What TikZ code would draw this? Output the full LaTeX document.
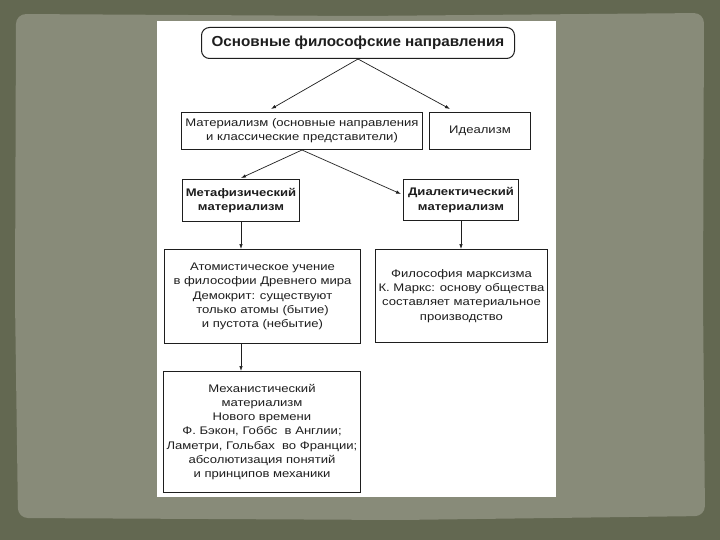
\documentclass[tikz,border=0pt]{standalone}
\usepackage{fontspec}
\setmainfont{Liberation Sans}
\newfontfamily\widefont{Liberation Sans}[FakeStretch=1.19]
\newfontfamily\titlefont{Liberation Sans}[FakeStretch=1.05]
\usetikzlibrary{arrows.meta,calc}
\definecolor{outerbg}{HTML}{636851}
\definecolor{innerbg}{HTML}{888B79}
\definecolor{ink}{HTML}{1E1E1E}
\tikzset{
  box/.style={draw=ink, line width=1pt, fill=white, text=ink, align=center, inner sep=2pt,
    font=\widefont\fontsize{11}{14.2}\selectfont, anchor=north west},
  bbox/.style={box, font=\widefont\fontsize{11}{14.2}\selectfont\bfseries},
  arr/.style={draw=ink, line width=0.7pt, -{Latex[length=5pt,width=3.5pt]}},
}
\begin{document}
\begin{tikzpicture}[x=1pt,y=-1pt]
\useasboundingbox (0,0) rectangle (720,540);
\fill[outerbg] (0,0) rectangle (720,540);
\fill[innerbg, rounded corners=10pt] (16,14) -- (360,16) -- (704,13) -- (703,300) -- (705,516) -- (400,520) -- (18,518) -- (15,300) -- cycle;
\fill[white] (157,21) rectangle (556,497);

\node[box, rounded corners=8pt, minimum width=313pt, minimum height=31pt,
  font=\titlefont\fontsize{14.5}{16}\selectfont\bfseries] (title) at (201,27) {Основные философские направления};
\node[box, minimum width=241pt, minimum height=37pt] (mat) at (181,112)
  {Материализм (основные направления\\и классические представители)};
\node[box, minimum width=101pt, minimum height=37pt] (ideal) at (429,112) {Идеализм};
\node[bbox, minimum width=117pt, minimum height=42pt] (meta) at (182,179)
  {Метафизический\\материализм};
\node[bbox, minimum width=115pt, minimum height=41pt] (dial) at (403,179)
  {Диалектический\\материализм};
\node[box, minimum width=196pt, minimum height=94pt] (atom) at (164,249)
  {Атомистическое учение\\в философии Древнего мира\\Демокрит: существуют\\только атомы (бытие)\\и пустота (небытие)};
\node[box, minimum width=172pt, minimum height=93pt] (marx) at (375,249)
  {Философия марксизма\\К. Маркс: основу общества\\составляет материальное\\производство};
\node[box, minimum width=197pt, minimum height=121pt] (mech) at (163,371)
  {Механистический\\материализм\\Нового времени\\Ф. Бэкон, Гоббс\ \ в Англии;\\Ламетри, Гольбах\ \ во Франции;\\абсолютизация понятий\\и принципов механики};

\draw[arr] (title.south) -- ([xshift=-31pt, yshift=3pt]mat.north);
\draw[arr] (title.south) -- ([xshift=-30pt, yshift=3pt]ideal.north);
\draw[arr] (mat.south) -- ([yshift=1pt]meta.north);
\draw[arr] (mat.south) -- ([yshift=6pt, xshift=-2pt]dial.west);
\draw[arr] (meta.south) -- (meta.south |- atom.north);
\draw[arr] (dial.south) -- (dial.south |- marx.north);
\draw[arr] (meta.south |- atom.south) -- (meta.south |- mech.north);
\end{tikzpicture}
\end{document}
